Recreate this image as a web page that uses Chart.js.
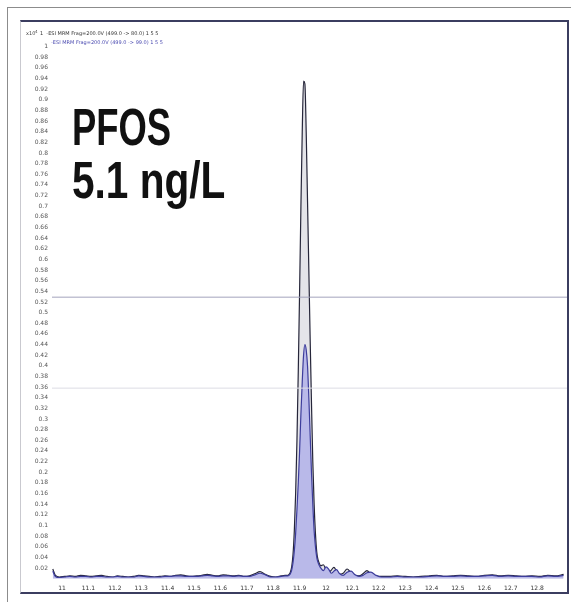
<!DOCTYPE html>
<html>
<head>
<meta charset="utf-8">
<script src="https://cdn.jsdelivr.net/npm/chart.js@4.4.1/dist/chart.umd.min.js"></script>
<style>
  html, body { margin: 0; padding: 0; background: #fff; }
  #page { position: relative; width: 571px; height: 602px; overflow: hidden; }
  #frame { position: absolute; left: 7px; top: 7px; width: 600px; height: 620px; border-left: 1px solid #8c8c8c; border-top: 1px solid #8c8c8c; }
  #box { position: absolute; left: 20px; top: 20px; width: 549px; height: 574px; box-sizing: border-box;
         border-top: 2px solid #3b3d60; border-right: 2px solid #3b3d60; border-bottom: 2px solid #3b3d60; border-left: 1px solid #c9c9cf; }
  #chart { position: absolute; left: 0; top: 0; }
  .big { position: absolute; left: 72px; font: bold 52px "Liberation Sans", Arial, sans-serif; line-height: 52px;
         color: #111; white-space: nowrap; transform-origin: 0 0; }
</style>
</head>
<body>
<div id="page">
  <div id="frame"></div>
  <div id="box"></div>
  <canvas id="chart" width="571" height="602"></canvas>
  <div class="big" style="top:101px; transform:scaleX(0.70)">PFOS</div>
  <div class="big" style="top:154px; transform:scaleX(0.78)">5.1 ng/L</div>
</div>
<script>
// acquisition time (min)
const retention = [
  10.965, 10.975, 10.99, 11.01, 11.03, 11.05, 11.07, 11.09, 11.11, 11.13, 11.15, 11.17, 11.19, 11.21, 11.23, 11.25,
  11.27, 11.29, 11.31, 11.33, 11.35, 11.37, 11.39, 11.41, 11.43, 11.45, 11.47, 11.49, 11.51, 11.53, 11.55, 11.57,
  11.59, 11.61, 11.63, 11.65, 11.67, 11.69, 11.71, 11.73, 11.75, 11.77, 11.79, 11.81, 11.83, 11.845,
  11.85, 11.855, 11.86, 11.865, 11.87, 11.875, 11.88, 11.885, 11.89, 11.895, 11.9, 11.905, 11.91, 11.915, 11.92,
  11.925, 11.93, 11.935, 11.94, 11.945, 11.95, 11.955, 11.96, 11.965, 11.97, 11.975,
  11.98, 11.99, 12.0, 12.01, 12.02, 12.03, 12.04, 12.05, 12.065, 12.08, 12.095, 12.11, 12.125, 12.14, 12.155, 12.17,
  12.19, 12.21,
  12.24, 12.27, 12.3, 12.33, 12.36, 12.39, 12.42, 12.45, 12.48, 12.51, 12.54, 12.57, 12.6, 12.63, 12.66, 12.69,
  12.72, 12.75, 12.78, 12.81, 12.84, 12.87, 12.9
];
// quantifier transition (black trace), counts x10^4
const quantIon = [
  0.018, 0.006, 0.003, 0.004, 0.005, 0.004, 0.006, 0.005, 0.004, 0.005, 0.006, 0.004, 0.003, 0.005, 0.004, 0.003,
  0.004, 0.006, 0.005, 0.004, 0.003, 0.004, 0.005, 0.004, 0.006, 0.007, 0.005, 0.004, 0.005, 0.006, 0.008, 0.006,
  0.005, 0.007, 0.006, 0.005, 0.006, 0.004, 0.005, 0.009, 0.013, 0.008, 0.004, 0.003, 0.005, 0.006,
  0.006, 0.006, 0.008, 0.012, 0.022, 0.045, 0.09, 0.16, 0.26, 0.39, 0.54, 0.70, 0.84, 0.935, 0.93,
  0.84, 0.71, 0.58, 0.45, 0.33, 0.22, 0.14, 0.085, 0.05, 0.035, 0.028,
  0.024, 0.026, 0.016, 0.011, 0.016, 0.021, 0.014, 0.008, 0.010, 0.018, 0.011, 0.006, 0.005, 0.009, 0.015, 0.009,
  0.005, 0.004,
  0.004, 0.005, 0.004, 0.003, 0.004, 0.005, 0.006, 0.004, 0.005, 0.006, 0.005, 0.004, 0.006, 0.007, 0.005, 0.006,
  0.005, 0.004, 0.005, 0.004, 0.006, 0.005, 0.008
];
// qualifier transition (blue trace)
const qualIon = [
  0.014, 0.004, 0.002, 0.003, 0.004, 0.003, 0.004, 0.004, 0.003, 0.004, 0.004, 0.003, 0.003, 0.004, 0.003, 0.003,
  0.003, 0.005, 0.004, 0.003, 0.003, 0.003, 0.004, 0.004, 0.005, 0.005, 0.004, 0.004, 0.004, 0.005, 0.006, 0.005,
  0.004, 0.005, 0.005, 0.004, 0.005, 0.004, 0.004, 0.007, 0.010, 0.007, 0.003, 0.003, 0.004, 0.005,
  0.005, 0.005, 0.006, 0.009, 0.016, 0.03, 0.052, 0.085, 0.13, 0.18, 0.24, 0.31, 0.37, 0.42, 0.44,
  0.43, 0.40, 0.34, 0.27, 0.20, 0.14, 0.09, 0.06, 0.04, 0.03, 0.024,
  0.02, 0.015, 0.022, 0.018, 0.010, 0.014, 0.017, 0.010, 0.006, 0.012, 0.014, 0.007, 0.004, 0.006, 0.011, 0.012,
  0.006, 0.003,
  0.003, 0.004, 0.003, 0.003, 0.003, 0.004, 0.005, 0.004, 0.004, 0.005, 0.004, 0.004, 0.005, 0.006, 0.004, 0.005,
  0.004, 0.004, 0.004, 0.003, 0.005, 0.004, 0.006
];
// horizontal marker levels
const markerLevels = [0.529, 0.358];

const xTicks = [11, 11.1, 11.2, 11.3, 11.4, 11.5, 11.6, 11.7, 11.8, 11.9, 12, 12.1, 12.2, 12.3, 12.4, 12.5, 12.6, 12.7, 12.8];
const yTicks = [
  0.02, 0.04, 0.06, 0.08, 0.1, 0.12, 0.14, 0.16, 0.18, 0.2, 0.22, 0.24, 0.26, 0.28, 0.3, 0.32, 0.34, 0.36, 0.38, 0.4,
  0.42, 0.44, 0.46, 0.48, 0.5, 0.52, 0.54, 0.56, 0.58, 0.6, 0.62, 0.64, 0.66, 0.68, 0.7, 0.72, 0.74, 0.76, 0.78, 0.8,
  0.82, 0.84, 0.86, 0.88, 0.9, 0.92, 0.94, 0.96, 0.98, 1
];
const xMin = 10.962, xMax = 12.913;
const yMin = -0.0083, yMax = 1.05;

const pts = (vals) => retention.map((t, i) => ({ x: t, y: vals[i] }));
const hline = (v) => [{ x: xMin, y: v }, { x: xMax, y: v }];

const headerText = {
  id: 'headerText',
  afterDraw(chart) {
    const c = chart.ctx;
    c.save();
    c.textBaseline = 'middle';
    c.font = '5px "DejaVu Sans"';
    c.fillStyle = '#444';
    c.fillText('x10', 26, 34);
    c.font = '4px "DejaVu Sans"';
    c.fillText('4', 35, 32);
    c.font = '5px "DejaVu Sans"';
    c.fillStyle = '#333';
    c.fillText('1  -ESI MRM Frag=200.0V (499.0 -> 80.0) 1 5 5', 40, 34);
    c.fillStyle = '#4a4ab0';
    c.fillText('-ESI MRM Frag=200.0V (499.0 -> 99.0) 1 5 5', 51, 43);
    c.restore();
  }
};

new Chart(document.getElementById('chart'), {
  type: 'line',
  data: {
    datasets: [
      { data: hline(markerLevels[0]), borderColor: '#a3a3bd', borderWidth: 1, pointRadius: 0, order: 0 },
      { data: hline(markerLevels[1]), borderColor: '#dcdce4', borderWidth: 1, pointRadius: 0, order: 0 },
      { label: 'qualifier', data: pts(qualIon), borderColor: '#3d3d9c', borderWidth: 1.2, pointRadius: 0,
        cubicInterpolationMode: 'monotone', fill: 'origin', backgroundColor: '#b9b9e9', order: 1 },
      { label: 'quantifier', data: pts(quantIon), borderColor: '#26263a', borderWidth: 1.2, pointRadius: 0,
        cubicInterpolationMode: 'monotone', fill: 'origin', backgroundColor: 'rgba(205,205,215,0.55)', order: 2 }
    ]
  },
  options: {
    responsive: false,
    animation: false,
    layout: { padding: { left: 20, top: 20, right: 4, bottom: 9 } },
    plugins: { legend: { display: false }, tooltip: { enabled: false } },
    scales: {
      x: {
        type: 'linear', min: xMin, max: xMax,
        afterBuildTicks: (s) => { s.ticks = xTicks.map(v => ({ value: v })); },
        afterFit: (s) => { s.height = 10; },
        grid: { display: false, drawTicks: false },
        border: { display: false },
        ticks: { padding: 2, color: '#333', font: { size: 6, family: 'DejaVu Sans' }, maxRotation: 0, autoSkip: false,
                 callback: (v) => String(Math.round(v * 10) / 10) }
      },
      y: {
        min: yMin, max: yMax,
        afterBuildTicks: (s) => { s.ticks = yTicks.map(v => ({ value: v })); },
        afterFit: (s) => { s.width = 32; },
        grid: { display: false, drawTicks: false },
        border: { display: false },
        ticks: { padding: 4, color: '#555', font: { size: 6, family: 'DejaVu Sans' }, autoSkip: false,
                 callback: (v) => String(Math.round(v * 100) / 100) }
      }
    }
  },
  plugins: [headerText]
});
</script>
</body>
</html>
